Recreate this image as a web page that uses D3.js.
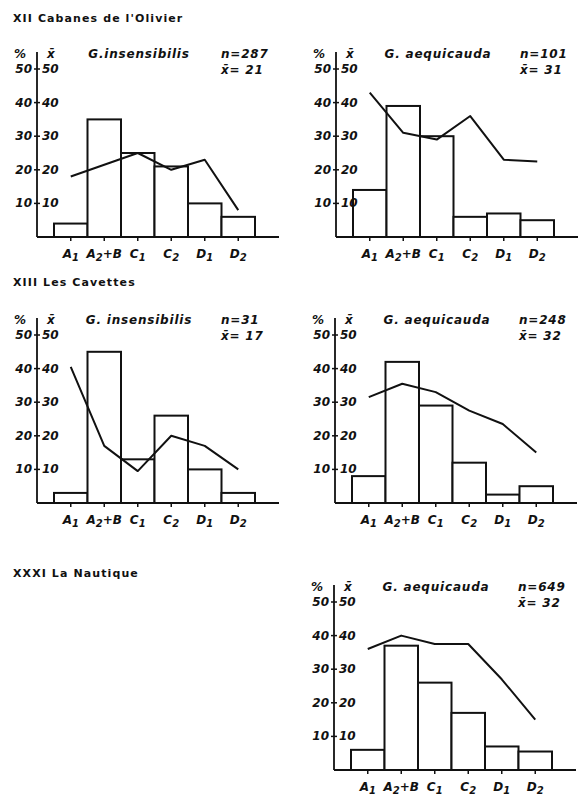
<!DOCTYPE html>
<html>
<head>
<meta charset="utf-8">
<script src="https://cdn.jsdelivr.net/npm/d3@7"></script>
<style>
  body { margin: 0; background: #fff; }
  svg { display: block; }
  text { font-family: "DejaVu Sans", sans-serif; fill: #111; }
  .lab { font-size: 12px; font-weight: bold; font-style: oblique; }
  .hdr { letter-spacing: 0.8px; }
  .sect { font-size: 11px; font-weight: bold; letter-spacing: 1.1px; }
</style>
</head>
<body>
<svg width="582" height="798"></svg>
<script>
var categories = ["A1", "A2+B", "C1", "C2", "D1", "D2"];
var yTicks = [10, 20, 30, 40, 50];

// percentage of individuals per class (bars)
var pctXIIins = [4, 35, 25, 21, 10, 6];
var pctXIIaeq = [14, 39, 30, 6, 7, 5];
var pctXIIIins = [3, 45, 13, 26, 10, 3];
var pctXIIIaeq = [8, 42, 29, 12, 2.5, 5];
var pctXXXIaeq = [6, 37, 26, 17, 7, 5.5];

// mean per class (line)
var meanXIIins = [18, 21.5, 25, 20, 23, 8];
var meanXIIaeq = [43, 31, 29, 36, 23, 22.5];
var meanXIIIins = [40.5, 17, 9.5, 20, 17, 10];
var meanXIIIaeq = [31.5, 35.5, 33, 27.5, 23.5, 15];
var meanXXXIaeq = [36, 40, 37.5, 37.5, 27, 15];

var species = ["G.insensibilis", "G. aequicauda", "G. insensibilis", "G. aequicauda", "G. aequicauda"];
var nValues = [287, 101, 31, 248, 649];
var xbarValues = [21, 31, 17, 32, 32];

var sections = [
  { text: "XII Cabanes de l'Olivier", x: 13, y: 22 },
  { text: "XIII Les Cavettes", x: 13, y: 286 },
  { text: "XXXI La Nautique", x: 13, y: 577 }
];

var panels = [
  { ax: 37, base: 237, pct: pctXIIins, mean: meanXIIins },
  { ax: 336, base: 237, pct: pctXIIaeq, mean: meanXIIaeq },
  { ax: 37, base: 503, pct: pctXIIIins, mean: meanXIIIins },
  { ax: 335, base: 503, pct: pctXIIIaeq, mean: meanXIIIaeq },
  { ax: 334, base: 770, pct: pctXXXIaeq, mean: meanXXXIaeq }
];
panels.forEach(function (p, i) {
  p.species = species[i];
  p.n = nValues[i];
  p.xbar = xbarValues[i];
});

var svg = d3.select("svg");

svg.selectAll("text.sect")
  .data(sections)
  .enter()
  .append("text")
  .attr("class", "sect")
  .attr("x", function (d) { return d.x; })
  .attr("y", function (d) { return d.y; })
  .text(function (d) { return d.text; });

function addLabel(sel, label) {
  // letter + subscript digit, e.g. A2+B
  var m = label.match(/^([A-Z])(\d)(.*)$/);
  sel.append("tspan").text(m[1]);
  sel.append("tspan").attr("dy", 3).style("font-size", "10px").text(m[2]);
  if (m[3]) sel.append("tspan").attr("dy", -3).text(m[3]);
}

panels.forEach(function (p) {
  var g = svg.append("g");

  var x = d3.scaleBand()
    .domain(categories)
    .range([p.ax + 17, p.ax + 17 + 6 * 33.5])
    .paddingInner(0);

  var y = d3.scaleLinear()
    .domain([0, 50])
    .range([p.base, p.base - 168]);

  // bars
  g.selectAll("rect")
    .data(p.pct)
    .enter()
    .append("rect")
    .attr("x", function (d, i) { return x(categories[i]); })
    .attr("y", function (d) { return y(d); })
    .attr("width", x.bandwidth())
    .attr("height", function (d) { return y(0) - y(d); })
    .attr("fill", "#fff")
    .attr("stroke", "#111")
    .attr("stroke-width", 2);

  // mean line
  var line = d3.line()
    .x(function (d, i) { return x(categories[i]) + x.bandwidth() / 2; })
    .y(function (d) { return y(d); });

  g.append("path")
    .datum(p.mean)
    .attr("d", line)
    .attr("fill", "none")
    .attr("stroke", "#111")
    .attr("stroke-width", 2)
    .attr("stroke-linejoin", "round");

  // axes
  g.append("line")
    .attr("x1", p.ax).attr("x2", p.ax)
    .attr("y1", p.base - 185).attr("y2", p.base)
    .attr("stroke", "#111").attr("stroke-width", 1.8);

  g.append("line")
    .attr("x1", p.ax).attr("x2", p.ax + 242)
    .attr("y1", p.base).attr("y2", p.base)
    .attr("stroke", "#111").attr("stroke-width", 2);

  var ty = g.selectAll("g.ty")
    .data(yTicks)
    .enter()
    .append("g")
    .attr("transform", function (d) { return "translate(0," + y(d) + ")"; });

  ty.append("line")
    .attr("x1", p.ax - 3).attr("x2", p.ax + 3)
    .attr("stroke", "#111").attr("stroke-width", 1.5);

  ty.append("text")
    .attr("class", "lab")
    .attr("x", p.ax - 5)
    .attr("y", 4)
    .attr("text-anchor", "end")
    .text(function (d) { return d; });

  ty.append("text")
    .attr("class", "lab")
    .attr("x", p.ax + 5)
    .attr("y", 4)
    .text(function (d) { return d; });

  // x ticks + labels
  var tx = g.selectAll("g.tx")
    .data(categories)
    .enter()
    .append("g")
    .attr("transform", function (d) {
      return "translate(" + (x(d) + x.bandwidth() / 2) + "," + p.base + ")";
    });

  tx.append("line")
    .attr("y1", 0).attr("y2", 4)
    .attr("stroke", "#111").attr("stroke-width", 1.5);

  tx.append("text")
    .attr("class", "lab")
    .attr("y", 21)
    .attr("text-anchor", "middle")
    .each(function (d) { addLabel(d3.select(this), d); });

  // header
  g.append("text").attr("class", "lab")
    .attr("x", p.ax - 23).attr("y", p.base - 179).text("%");
  g.append("text").attr("class", "lab")
    .attr("x", p.ax + 10).attr("y", p.base - 179).text("x\u0304");
  g.append("text").attr("class", "lab hdr")
    .attr("x", p.ax + 102).attr("y", p.base - 179)
    .attr("text-anchor", "middle").text(p.species);
  g.append("text").attr("class", "lab hdr")
    .attr("x", p.ax + 184).attr("y", p.base - 179).text("n=" + p.n);
  g.append("text").attr("class", "lab hdr")
    .attr("x", p.ax + 184).attr("y", p.base - 163).text("x\u0304= " + p.xbar);
});
</script>
</body>
</html>
